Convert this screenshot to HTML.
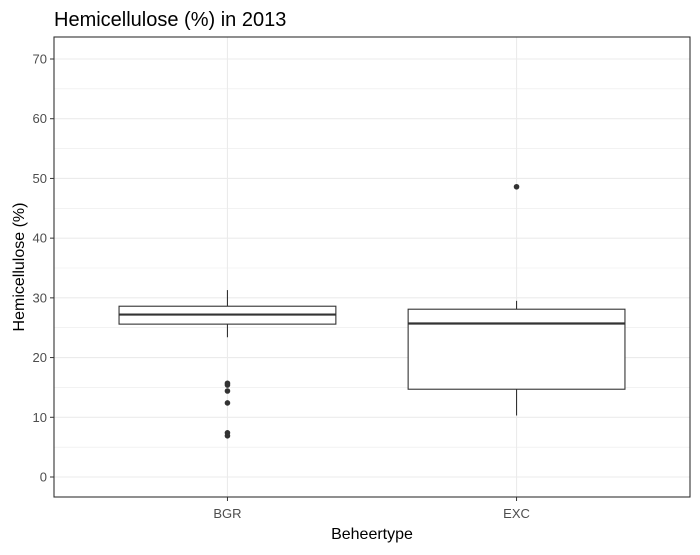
<!DOCTYPE html>
<html><head><style>
body{margin:0;background:#fff;font-family:"Liberation Sans",sans-serif;}
</style></head><body>
<svg width="700" height="550" xmlns="http://www.w3.org/2000/svg">
<text x="54" y="26" font-size="20" fill="#000">Hemicellulose (%) in 2013</text>
<g id="grid"></g><g id="marks"></g><g id="axes"></g>
<rect x="54" y="37" width="636" height="460" fill="none" stroke="#333" stroke-width="1.1"/>
<text x="372" y="539" font-size="16" text-anchor="middle">Beheertype</text>
<text transform="translate(24,267) rotate(-90)" font-size="16" text-anchor="middle">Hemicellulose (%)</text>
</svg>
<script>
const categories=["BGR","EXC"];
const lowerWhisker=[23.4,10.3];
const q1=[25.6,14.7];
const median=[27.2,25.7];
const q3=[28.6,28.1];
const upperWhisker=[31.3,29.5];
const outliers=[[15.7,15.4,14.4,12.4,7.4,6.9],[48.6]];
const yTicks=[0,10,20,30,40,50,60,70];
const NS="http://www.w3.org/2000/svg";
const y=v=>477-v*(418/70);
const step=636/2.2;
const x=i=>54+(0.6+i)*step;
const bw=0.75*step;
function el(t,a,p){const e=document.createElementNS(NS,t);for(const k in a)e.setAttribute(k,a[k]);document.getElementById(p).appendChild(e);return e;}
for(let v=0;v<=70;v+=5){const l=el('line',{x1:54,x2:690,y1:y(v),y2:y(v),stroke:'#ebebeb','stroke-width':v%10?0.6:1.1},'grid');

}
categories.forEach((c,i)=>{const l=el('line',{x1:x(i),x2:x(i),y1:37,y2:497,stroke:'#ebebeb','stroke-width':1.1},'grid');

});
yTicks.forEach(v=>{const t=el('text',{x:47,y:y(v)+4.5,'font-size':13,'text-anchor':'end',fill:'#4d4d4d'},'axes');t.textContent=v;


el('line',{x1:50,x2:54,y1:y(v),y2:y(v),stroke:'#333'},'axes');});
categories.forEach((c,i)=>{const t=el('text',{x:x(i),y:518,'font-size':13,'text-anchor':'middle',fill:'#4d4d4d'},'axes');t.textContent=c;


el('line',{x1:x(i),x2:x(i),y1:497,y2:501,stroke:'#333'},'axes');
const w1=el('line',{x1:x(i),x2:x(i),y1:y(upperWhisker[i]),y2:y(q3[i]),stroke:'#333','stroke-width':1.1},'marks');


const w2=el('line',{x1:x(i),x2:x(i),y1:y(q1[i]),y2:y(lowerWhisker[i]),stroke:'#333','stroke-width':1.1},'marks');


const b=el('rect',{x:x(i)-bw/2,y:y(q3[i]),width:bw,height:y(q1[i])-y(q3[i]),fill:'#fff',stroke:'#333','stroke-width':1.1},'marks');


const m=el('line',{x1:x(i)-bw/2,x2:x(i)+bw/2,y1:y(median[i]),y2:y(median[i]),stroke:'#333','stroke-width':2.2},'marks');


outliers[i].forEach(v=>{const p=el('circle',{cx:x(i),cy:y(v),r:2.8,fill:'#333'},'marks');

});
});
</script>
</body></html>
